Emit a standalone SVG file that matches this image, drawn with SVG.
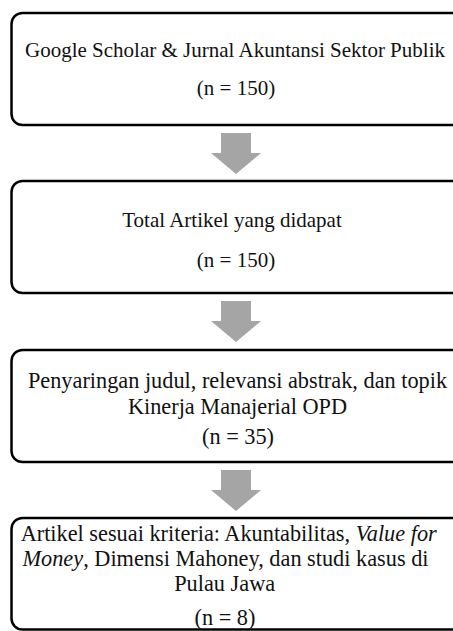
<svg xmlns="http://www.w3.org/2000/svg" width="453" height="631" viewBox="0 0 453 631">
<style>
.box{fill:#ffffff;stroke:#000000;stroke-width:2.5}
.arrow{fill:#a5a5a5}
text{font-family:"Liberation Serif","Times New Roman",serif;font-size:21px;fill:#111111;text-anchor:middle}
.big{font-size:22.3px}
.it{font-style:italic}
</style>
<rect width="453" height="631" fill="#ffffff"/>
<g id="connectors">
<polygon class="arrow" points="221,133 251,133 251,153 261,153 236,174 211,153 221,153"/>
<polygon class="arrow" points="221,301 251,301 251,321 261,321 236,342 211,321 221,321"/>
<polygon class="arrow" points="221,470 251,470 251,490 261,490 236,511 211,490 221,490"/>
</g>
<g id="node1">
<rect class="box" x="11.5" y="13" width="451" height="112" rx="11"/>
<text x="235" y="57">Google Scholar &amp; Jurnal Akuntansi Sektor Publik</text>
<text x="236" y="95">(n = 150)</text>
</g>
<g id="node2">
<rect class="box" x="11.5" y="181" width="451" height="112" rx="11"/>
<text x="232" y="227">Total Artikel yang didapat</text>
<text x="236" y="267">(n = 150)</text>
</g>
<g id="node3">
<rect class="box" x="11.5" y="350" width="451" height="112" rx="11"/>
<text class="big" x="237.5" y="388">Penyaringan judul, relevansi abstrak, dan topik</text>
<text class="big" x="237.5" y="414">Kinerja Manajerial OPD</text>
<text class="big" x="238" y="444">(n = 35)</text>
</g>
<g id="node4">
<rect class="box" x="11.5" y="518" width="451" height="111.5" rx="11"/>
<text class="big" x="228.7" y="541">Artikel sesuai kriteria: Akuntabilitas, <tspan class="it">Value for</tspan></text>
<text class="big" x="225.5" y="566"><tspan class="it">Money</tspan>, Dimensi Mahoney, dan studi kasus di</text>
<text class="big" x="224.7" y="591">Pulau Jawa</text>
<text class="big" x="225" y="625">(n = 8)</text>
</g>
</svg>
